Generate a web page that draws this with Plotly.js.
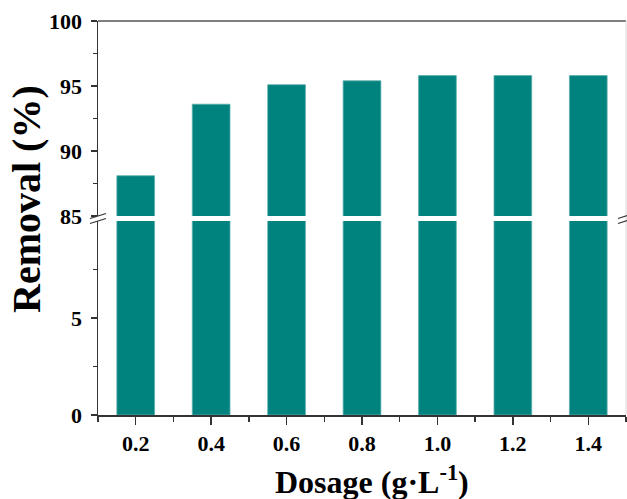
<!DOCTYPE html>
<html>
<head>
<meta charset="utf-8">
<script src="https://cdn.plot.ly/plotly-3.0.1.min.js"></script>
<style>html,body{margin:0;padding:0;background:#fff;}#chart{width:627px;height:499px;}</style>
</head>
<body>
<div id="chart"></div>
<script>
const dosage = [0.2, 0.4, 0.6, 0.8, 1.0, 1.2, 1.4];
const removal = [88.1, 93.6, 95.1, 95.4, 95.8, 95.8, 95.8];
const xTickVals = [0.2, 0.4, 0.6, 0.8, 1.0, 1.2, 1.4];
const xTickText = ['0.2', '0.4', '0.6', '0.8', '1.0', '1.2', '1.4'];
const lowerTicks = [0, 5];
const upperTicks = [85, 90, 95, 100];

const barColor = '#00827f';
const axisColor = '#333333';
const fontFam = '"Liberation Serif", "Times New Roman", Times, serif';

const barStyle = {color: barColor, line: {color: '#5aaeab', width: 0.8}};

const traces = [
  {type: 'bar', x: dosage, y: removal, width: 0.1, marker: barStyle, xaxis: 'x', yaxis: 'y', hoverinfo: 'x+y'},
  {type: 'bar', x: dosage, y: removal, width: 0.1, marker: barStyle, xaxis: 'x', yaxis: 'y2', hoverinfo: 'x+y'}
];

const gapMid = (415 - 218.5) / 394;

function slash(xa, dy) {
  return {type: 'line', xref: 'paper', yref: 'paper', xsizemode: 'pixel', ysizemode: 'pixel',
    xanchor: xa, yanchor: gapMid, x0: -8, x1: 8, y0: -2.5 + dy, y1: 2.5 + dy,
    line: {color: axisColor, width: 1.3}};
}

const tickFont = {family: fontFam, size: 22, weight: 'bold', color: '#000'};

const commonY = {
  showline: true, linecolor: axisColor, linewidth: 1.5,
  ticks: 'outside', ticklen: 6, tickwidth: 1.3, tickcolor: axisColor,
  showgrid: false, zeroline: false, anchor: 'x',
  tickfont: tickFont, ticklabelstandoff: 4,
  fixedrange: true
};

const layout = {
  width: 627, height: 499,
  margin: {l: 98, r: 1, t: 21, b: 84},
  paper_bgcolor: '#fff', plot_bgcolor: '#fff',
  showlegend: false,
  bargap: 0,
  xaxis: {
    range: [0.1, 1.5], tickvals: xTickVals, ticktext: xTickText,
    showline: true, linecolor: axisColor, linewidth: 1.5,
    ticks: 'outside', ticklen: 8, tickwidth: 1.3, tickcolor: axisColor,
    minor: {dtick: 0.2, tick0: 0.1, ticks: 'outside', ticklen: 5, tickwidth: 1.3, tickcolor: axisColor},
    showgrid: false, zeroline: false, anchor: 'y',
    tickfont: tickFont,
    fixedrange: true
  },
  yaxis: Object.assign({}, commonY, {
    domain: [0, 0.4924], range: [0, 10], tickvals: lowerTicks,
    minor: {tickvals: [2.5, 7.5], ticks: 'outside', ticklen: 4, tickwidth: 1.3, tickcolor: axisColor}
  }),
  yaxis2: Object.assign({}, commonY, {
    domain: [0.505, 1], range: [85, 100], tickvals: upperTicks,
    minor: {tickvals: [87.5, 92.5, 97.5], ticks: 'outside', ticklen: 4, tickwidth: 1.3, tickcolor: axisColor}
  }),
  annotations: [
    {
      text: 'Removal (%)', xref: 'paper', yref: 'paper', x: 0, y: (415 - 199) / 394, xanchor: 'center', yanchor: 'middle',
      xshift: -72, textangle: -90, showarrow: false,
      font: {family: fontFam, size: 40, weight: 'bold', color: '#000'}
    },
    {
      text: 'Dosage (g·L<sup>-1</sup>)', xref: 'paper', yref: 'paper', x: (372 - 98) / 528, y: (415 - 480) / 394,
      xanchor: 'center', yanchor: 'middle', showarrow: false,
      font: {family: fontFam, size: 32, weight: 'bold', color: '#000'}
    }
  ],
  shapes: [
    {type: 'line', xref: 'paper', yref: 'paper', x0: 0, x1: 1, y0: 1, y1: 1, line: {color: '#555', width: 1.5}},
    {type: 'line', xref: 'paper', yref: 'paper', x0: 1, x1: 1, y0: 0, y1: 1, line: {color: '#d8d8d8', width: 1}},
    slash(0, 2.5), slash(0, -2.5), slash(1, 2.5), slash(1, -2.5)
  ]
};

Plotly.newPlot('chart', traces, layout, {displayModeBar: false, staticPlot: true});
</script>
</body>
</html>
